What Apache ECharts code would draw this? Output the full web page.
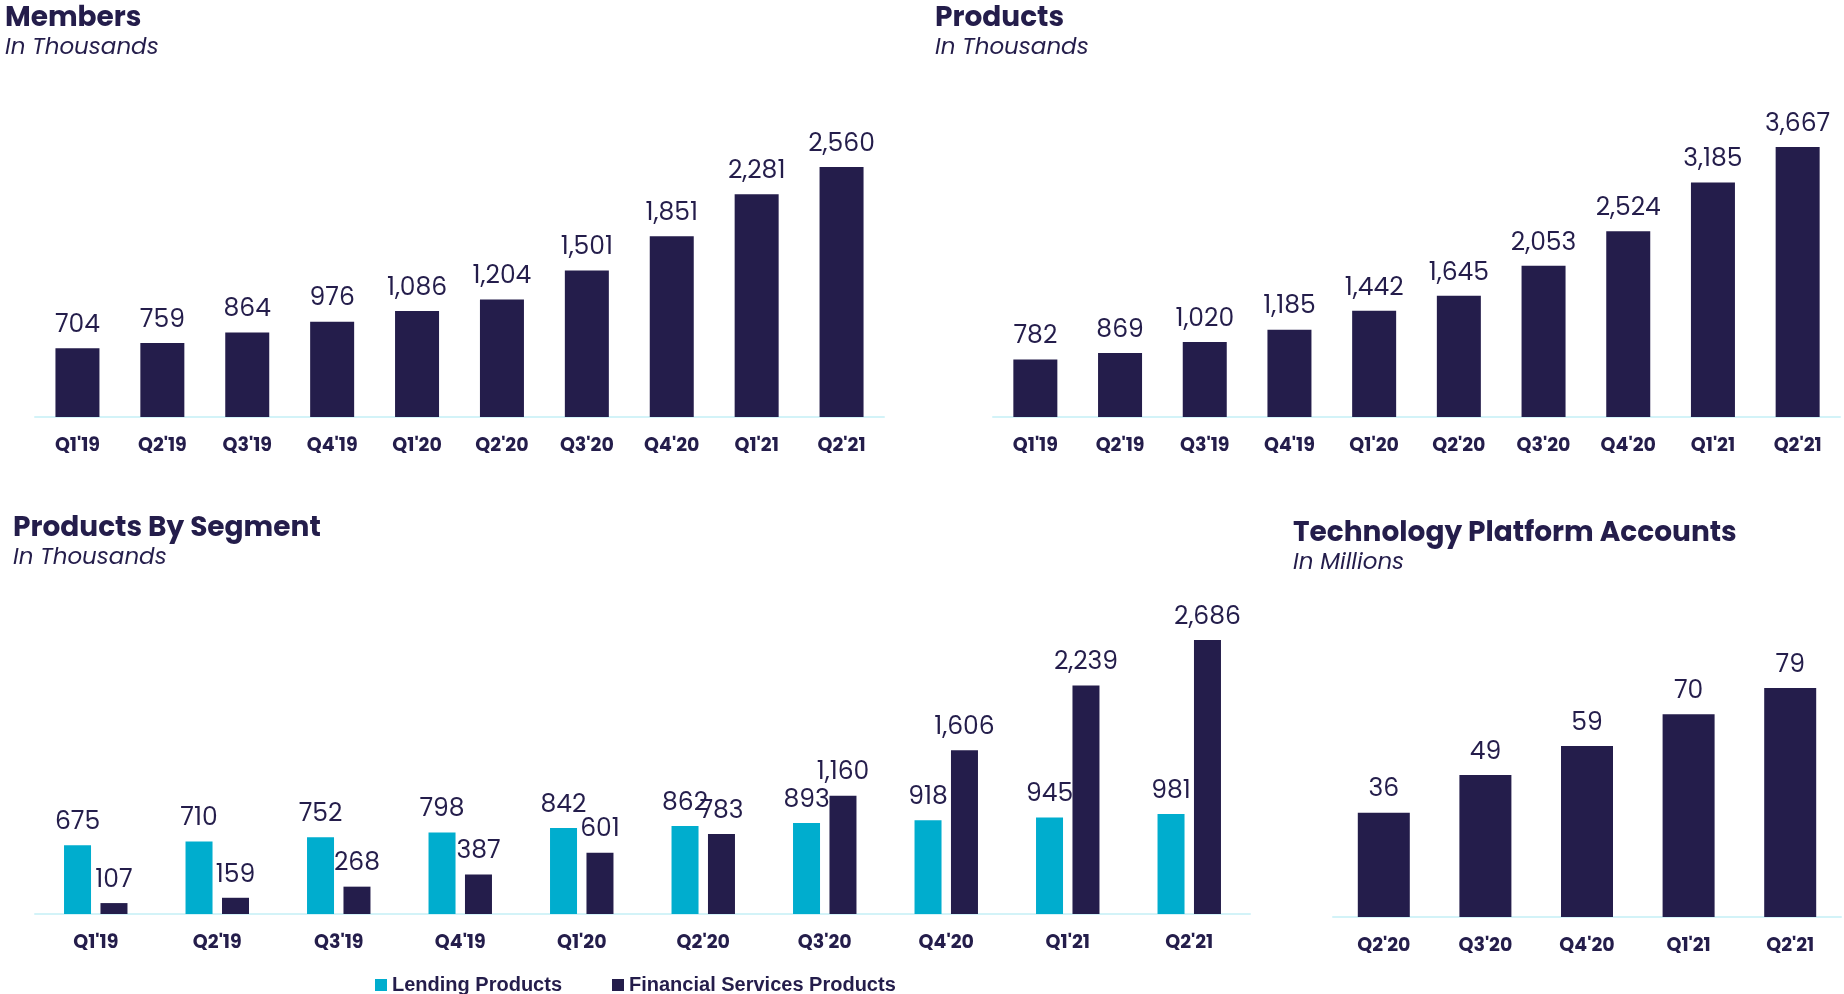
<!DOCTYPE html>
<html><head><meta charset="utf-8">
<script src="https://cdn.jsdelivr.net/npm/echarts@6/dist/echarts.min.js"></script>
<style>html,body{margin:0;padding:0;background:#fff}#c{width:1844px;height:994px}</style>
</head><body><div id="c"></div>
<script>
const quarters = ["Q1'19","Q2'19","Q3'19","Q4'19","Q1'20","Q2'20","Q3'20","Q4'20","Q1'21","Q2'21"];
const members = [704,759,864,976,1086,1204,1501,1851,2281,2560];
const products = [782,869,1020,1185,1442,1645,2053,2524,3185,3667];
const lending = [675,710,752,798,842,862,893,918,945,981];
const finServices = [107,159,268,387,601,783,1160,1606,2239,2686];
const techQuarters = ["Q2'20","Q3'20","Q4'20","Q1'21","Q2'21"];
const techAccounts = [36,49,59,70,79];

const DARK = '#241d4b', CYAN = '#00adce', AXIS = '#d3f3f8';
const font = 'Poppins, "Noto Sans", sans-serif';
const fmt = p => p.value.toLocaleString('en-US');
const vlabel = {show:true, position:'top', distance:10, color:DARK, fontSize:25, fontFamily:font, formatter:fmt};
function title(text, sub, left, top){
  return {text, subtext:sub, left, top, itemGap:4,
    textStyle:{color:DARK, fontSize:28, fontWeight:'bold', fontFamily:font},
    subtextStyle:{color:DARK, fontSize:23, fontStyle:'italic', fontFamily:font}};
}
function xAx(idx, data){
  return {type:'category', gridIndex:idx, data,
    axisLine:{lineStyle:{color:AXIS, width:2}}, axisTick:{show:false},
    axisLabel:{color:DARK, fontSize:19, fontWeight:'bold', fontFamily:font, margin:20}};
}
function yAx(idx, max){ return {type:'value', gridIndex:idx, min:0, max, show:false, splitLine:{show:false}}; }

const chart = echarts.init(document.getElementById('c'));
chart.setOption({
  animation:false,
  title:[
    title('Members','In Thousands',0,0),
    title('Products','In Thousands',930,0),
    title('Products By Segment','In Thousands',8,510),
    title('Technology Platform Accounts','In Millions',1288,515)
  ],
  grid:[
    {left:35, right:1844-884, top:100, height:317},
    {left:993, right:4, top:100, height:317},
    {left:35, right:1844-1250, top:600, height:314},
    {left:1333, right:3, top:600, height:317}
  ],
  xAxis:[xAx(0,quarters), xAx(1,quarters), xAx(2,quarters), xAx(3,techQuarters)],
  yAxis:[yAx(0,3246), yAx(1,4305), yAx(2,3078), yAx(3,109.4)],
  legend:{data:['Lending Products','Financial Services Products'], left:370, top:970,
    itemWidth:12, itemHeight:12, itemGap:50, icon:'rect',
    textStyle:{color:DARK, fontSize:20, fontWeight:'bold', fontFamily:'"Liberation Sans Narrow", "Liberation Sans", sans-serif'}},
  series:[
    {type:'bar', xAxisIndex:0, yAxisIndex:0, data:members, barWidth:44, itemStyle:{color:DARK}, label:vlabel},
    {type:'bar', xAxisIndex:1, yAxisIndex:1, data:products, barWidth:44, itemStyle:{color:DARK}, label:vlabel},
    {type:'bar', name:'Lending Products', xAxisIndex:2, yAxisIndex:2, data:lending, barWidth:27, barGap:'35%', itemStyle:{color:CYAN}, label:vlabel},
    {type:'bar', name:'Financial Services Products', xAxisIndex:2, yAxisIndex:2, data:finServices, barWidth:27, itemStyle:{color:DARK}, label:vlabel},
    {type:'bar', xAxisIndex:3, yAxisIndex:3, data:techAccounts, barWidth:52, itemStyle:{color:DARK}, label:vlabel}
  ]
});
</script></body></html>
